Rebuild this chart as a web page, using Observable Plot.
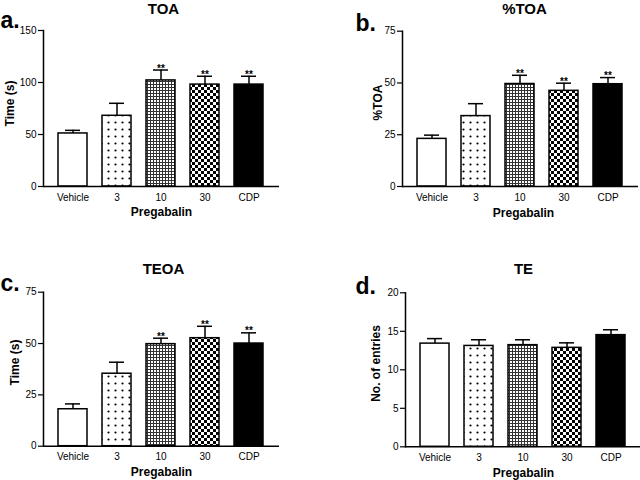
<!DOCTYPE html>
<html>
<head>
<meta charset="utf-8">
<script src="https://cdn.jsdelivr.net/npm/d3@7"></script>
<script src="https://cdn.jsdelivr.net/npm/@observablehq/plot@0.6"></script>
<style>
  html, body { margin: 0; padding: 0; background: #fff; }
  #wrap { position: relative; width: 640px; height: 480px; overflow: hidden; background: #fff; }
  .panel { position: absolute; width: 320px; height: 240px; }
  svg { display: block; }
</style>
</head>
<body>
<svg width="0" height="0" style="position:absolute">
  <defs>
    <pattern id="pDots" width="7" height="7" patternUnits="userSpaceOnUse">
      <rect width="7" height="7" fill="#fff"/>
      <circle cx="3.5" cy="3.5" r="1.1" fill="#000"/>
    </pattern>
    <pattern id="pGrid" width="3" height="3" patternUnits="userSpaceOnUse">
      <rect width="3" height="3" fill="#fff"/>
      <rect x="0" y="0" width="3" height="1" fill="#333"/>
      <rect x="0" y="0" width="1" height="3" fill="#333"/>
    </pattern>
    <pattern id="pCheck" width="6" height="6" patternUnits="userSpaceOnUse">
      <rect width="6" height="6" fill="#fff"/>
      <rect x="0" y="0" width="3" height="3" fill="#000"/>
      <rect x="3" y="3" width="3" height="3" fill="#000"/>
    </pattern>
  </defs>
</svg>
<div id="wrap">
  <div class="panel" id="pa" style="left:0;top:0"></div>
  <div class="panel" id="pb" style="left:320px;top:0"></div>
  <div class="panel" id="pc" style="left:0;top:240px"></div>
  <div class="panel" id="pd" style="left:320px;top:240px"></div>
</div>
<script>
// ---- data ----
const categories = ["Vehicle", "3", "10", "30", "CDP"];
const fills = ["#ffffff", "url(#pDots)", "url(#pGrid)", "url(#pCheck)", "#000000"];

const toaMean = [51, 68, 102, 98, 98];
const toaErr = [3, 12, 10, 8, 8];
const toaSig = ["", "", "**", "**", "**"];
const toaTicks = [0, 50, 100, 150];

const ptoaMean = [23, 34, 49.5, 46.2, 49.4];
const ptoaErr = [1.8, 6, 4.2, 3.7, 3.2];
const ptoaSig = ["", "", "**", "**", "**"];
const ptoaTicks = [0, 25, 50, 75];

const teoaMean = [18, 35.3, 49.7, 52.6, 50];
const teoaErr = [2.6, 5.6, 2.9, 5.8, 5.2];
const teoaSig = ["", "", "**", "**", "**"];
const teoaTicks = [0, 25, 50, 75];

const teMean = [13.4, 13.1, 13.2, 12.85, 14.5];
const teErr = [0.65, 0.8, 0.7, 0.65, 0.7];
const teSig = ["", "", "", "", ""];
const teTicks = [0, 5, 10, 15, 20];

const FONT = "Arial, 'Liberation Sans', Helvetica, sans-serif";

function panel(opts) {
  const {means, errs, sig, ticks, ymax, title, letter, ylabel,
         mL, mR, mT, mB, titlePos, letterPos, ylabelPos, xlabelPos} = opts;
  const rows = categories.map((c, i) => ({
    cat: c, mean: means[i], top: means[i] + errs[i], sig: sig[i], fill: fills[i]
  }));
  const W = 320, H = 240;
  const abs = (p) => ({dx: p[0] - mL, dy: p[1] - mT});
  return Plot.plot({
    width: W, height: H,
    marginLeft: mL, marginRight: mR, marginTop: mT, marginBottom: mB,
    style: {fontFamily: FONT, fontSize: "10px", background: "#fff", color: "#000", overflow: "visible"},
    x: {domain: categories, padding: 0.34, label: null},
    y: {domain: [0, ymax], label: null},
    marks: [
      Plot.ruleX(rows, {x: "cat", y1: "mean", y2: "top", stroke: "#000", strokeWidth: 1.5}),
      Plot.tickY(rows, {x: "cat", y: "top", stroke: "#000", strokeWidth: 1.5, insetLeft: 7, insetRight: 7}),
      Plot.barY(rows, {x: "cat", y: "mean", fill: "fill", stroke: "#000", strokeWidth: 1.5}),
      Plot.text(rows.filter(d => d.sig), {x: "cat", y: "top", text: "sig", lineAnchor: "bottom",
        dy: 1.5, fontSize: 10, fontWeight: "bold", fill: "#000"}),
      Plot.axisY({ticks: ticks, tickSize: 5, tickPadding: 2, label: null, fontSize: 10, strokeWidth: 1.2, fill: "#000"}),
      Plot.axisX({tickSize: 0, tickPadding: 7, label: null, fontSize: 10, fill: "#000"}),
      Plot.frame({anchor: "left", stroke: "#000", strokeWidth: 1.5}),
      Plot.ruleY([0], {stroke: "#000", strokeWidth: 1.5}),
      Plot.text([title], {frameAnchor: "top-left", ...abs(titlePos), textAnchor: "middle",
        lineAnchor: "bottom", fontSize: 15, fontWeight: "bold", fill: "#000"}),
      Plot.text([letter], {frameAnchor: "top-left", ...abs(letterPos), textAnchor: "start",
        lineAnchor: "bottom", fontSize: 23, fontWeight: "bold", fill: "#000"}),
      Plot.text([ylabel], {frameAnchor: "top-left", ...abs(ylabelPos), textAnchor: "middle",
        lineAnchor: "middle", rotate: -90, fontSize: 12, fontWeight: "bold", fill: "#000"}),
      Plot.text(["Pregabalin"], {frameAnchor: "top-left", ...abs(xlabelPos), textAnchor: "middle",
        lineAnchor: "middle", fontSize: 12, fontWeight: "bold", fill: "#000"})
    ]
  });
}

document.getElementById("pa").append(panel({
  means: toaMean, errs: toaErr, sig: toaSig, ticks: toaTicks, ymax: 150,
  title: "TOA", letter: "a.", ylabel: "Time (s)",
  mL: 43, mR: 41, mT: 30, mB: 54,
  titlePos: [163, 13], letterPos: [0, 27], ylabelPos: [10, 103], xlabelPos: [161, 212]
}));
document.getElementById("pb").append(panel({
  means: ptoaMean, errs: ptoaErr, sig: ptoaSig, ticks: ptoaTicks, ymax: 75,
  title: "%TOA", letter: "b.", ylabel: "%TOA",
  mL: 82, mR: 2, mT: 30.7, mB: 54,
  titlePos: [204, 13], letterPos: [35, 30], ylabelPos: [58, 102], xlabelPos: [203, 213]
}));
document.getElementById("pc").append(panel({
  means: teoaMean, errs: teoaErr, sig: teoaSig, ticks: teoaTicks, ymax: 75,
  title: "TEOA", letter: "c.", ylabel: "Time (s)",
  mL: 43, mR: 41, mT: 51.7, mB: 34.3,
  titlePos: [163, 33], letterPos: [0, 50], ylabelPos: [15, 122], xlabelPos: [161, 232]
}));
document.getElementById("pd").append(panel({
  means: teMean, errs: teErr, sig: teSig, ticks: teTicks, ymax: 20,
  title: "TE", letter: "d.", ylabel: "No. of entries",
  mL: 85, mR: 0, mT: 52.3, mB: 33.7,
  titlePos: [203, 33], letterPos: [35, 53], ylabelPos: [56, 123], xlabelPos: [203, 233]
}));
</script>
</body>
</html>
